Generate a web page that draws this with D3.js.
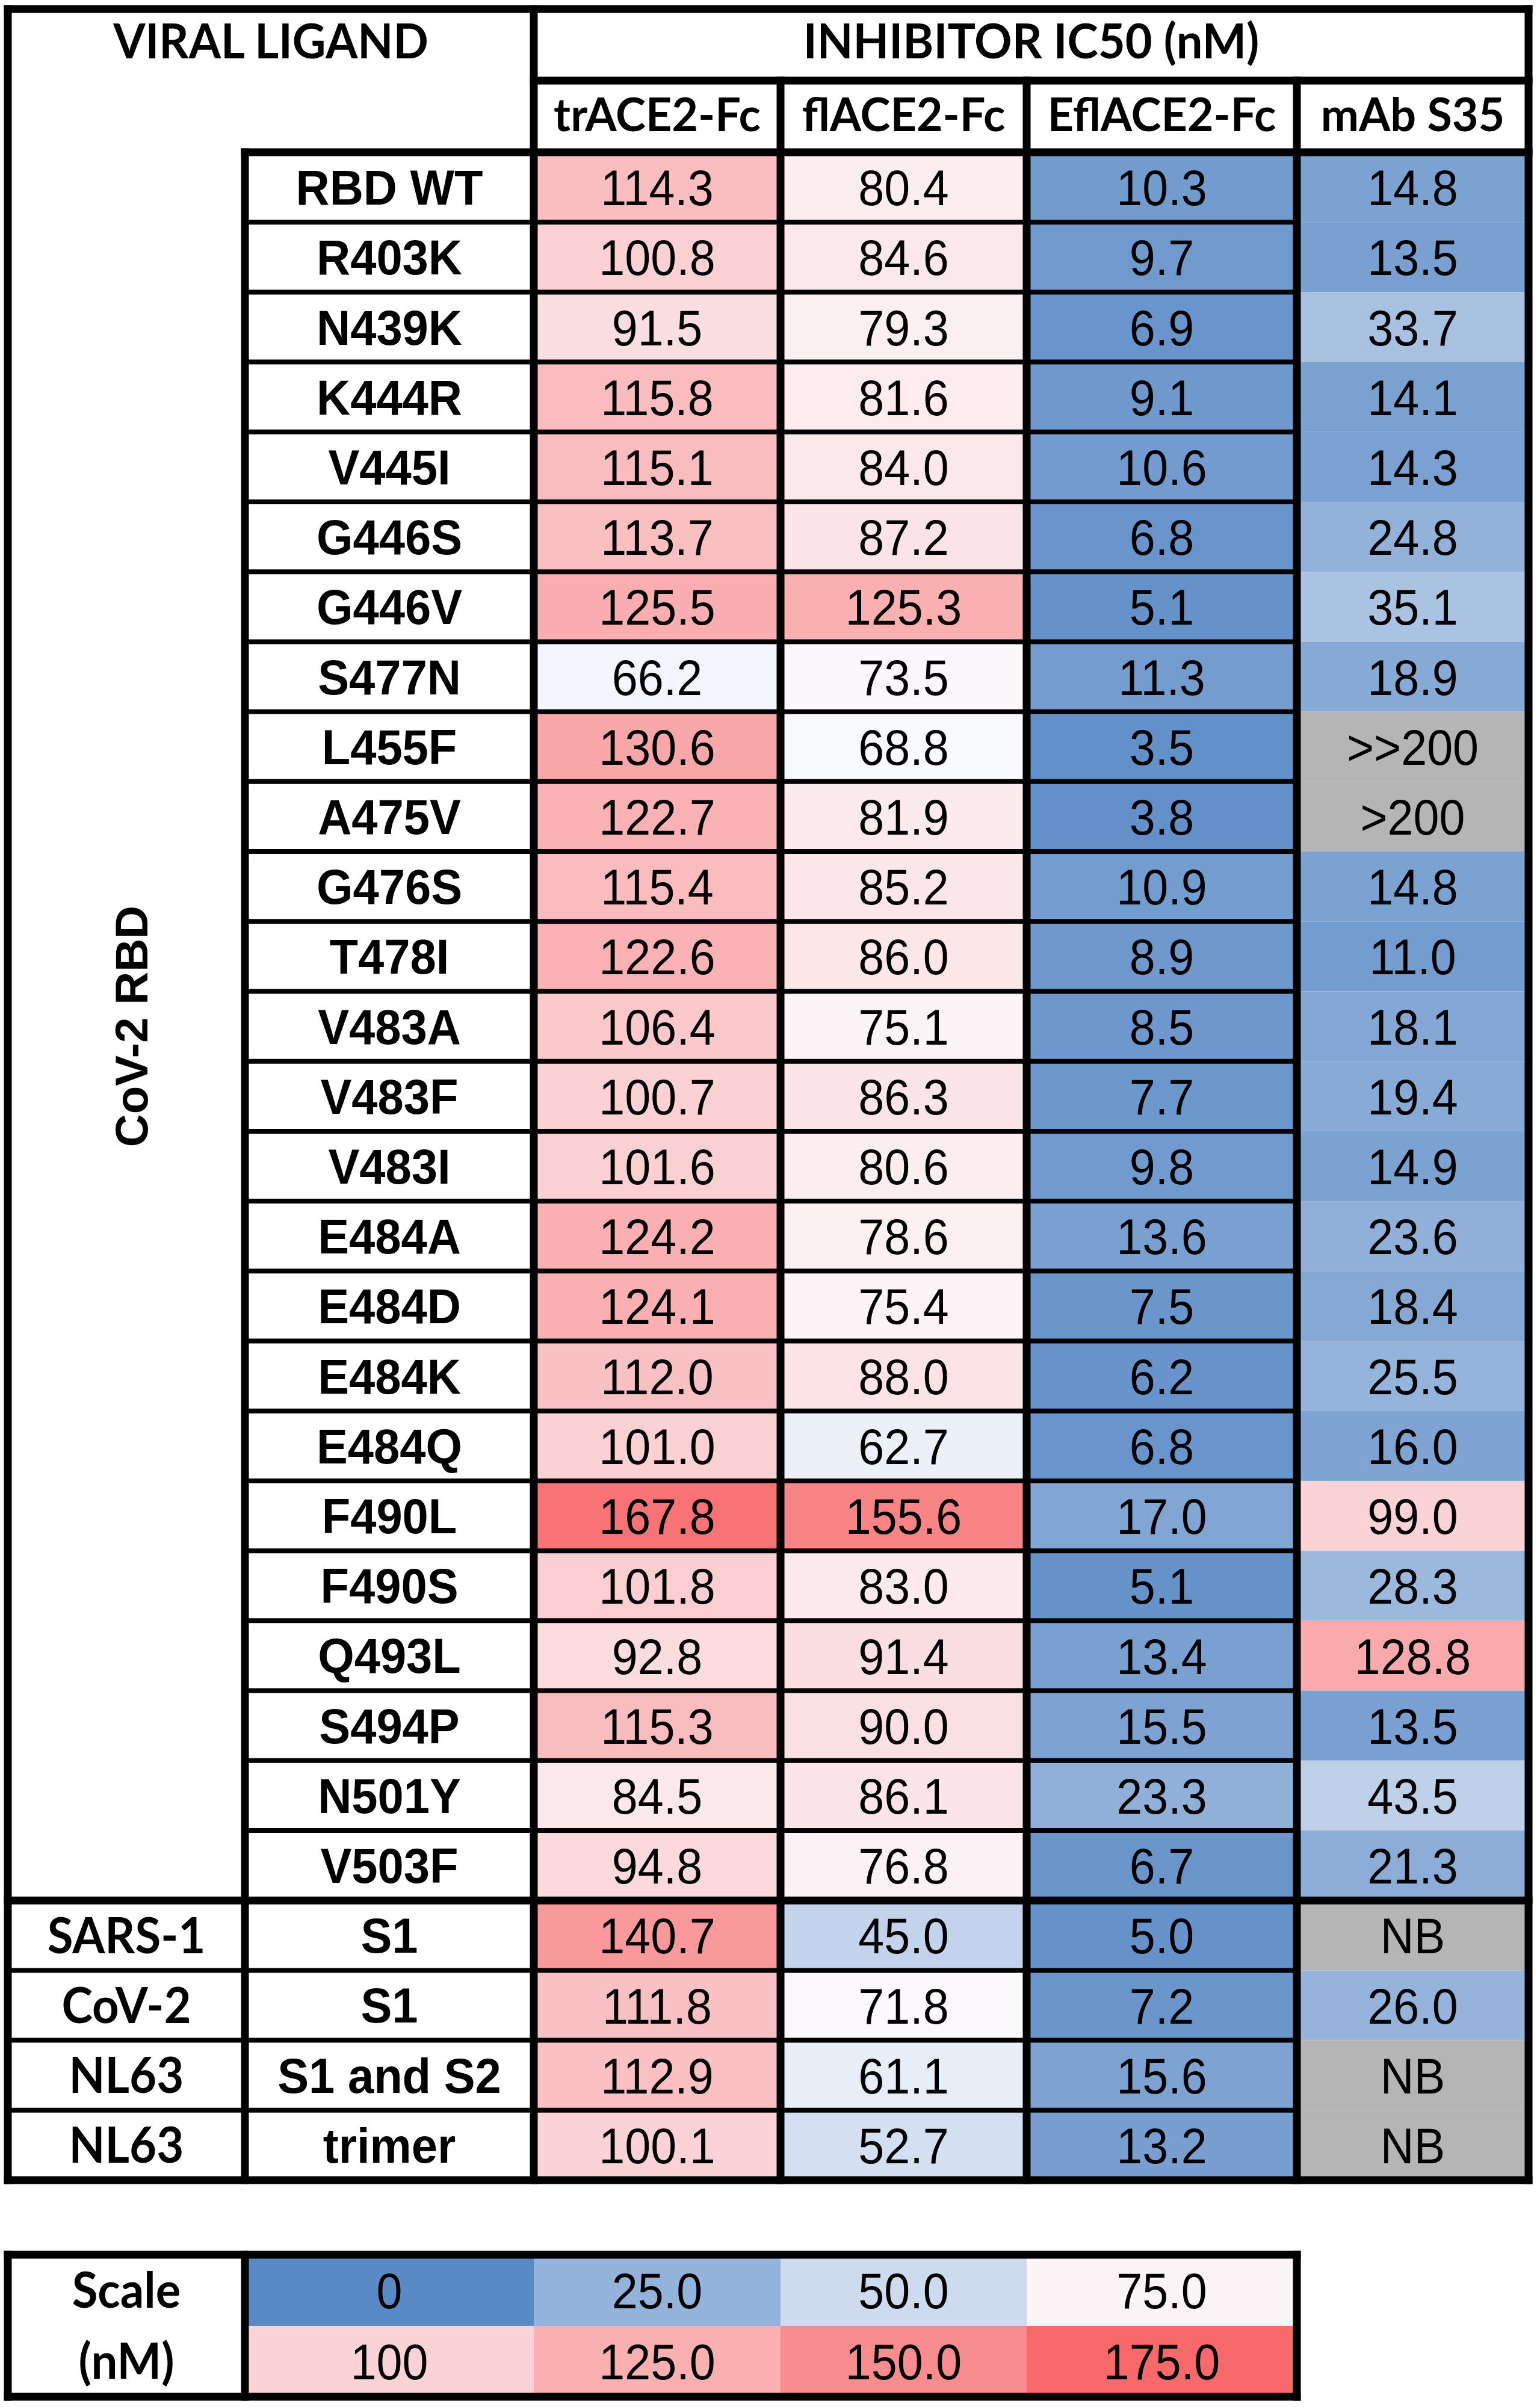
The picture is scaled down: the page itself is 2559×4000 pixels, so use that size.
<!DOCTYPE html>
<html>
<head>
<meta charset="utf-8">
<script src="https://cdn.jsdelivr.net/npm/d3@7"></script>
<style>
  body { margin: 0; background: #fff; }
</style>
</head>
<body>
<div id="chart"></div>
<script>
var ligands = ["RBD WT", "R403K", "N439K", "K444R", "V445I", "G446S", "G446V", "S477N",
  "L455F", "A475V", "G476S", "T478I", "V483A", "V483F", "V483I", "E484A", "E484D",
  "E484K", "E484Q", "F490L", "F490S", "Q493L", "S494P", "N501Y", "V503F",
  "S1", "S1", "S1 and S2", "trimer"];
var groups = ["SARS-1", "CoV-2", "NL63", "NL63"];   // last four rows
var rbdGroup = "CoV-2 RBD";                          // first 25 rows
var inhibitors = ["trACE2-Fc", "flACE2-Fc", "EflACE2-Fc", "mAb S35"];

var trACE2 = [114.3, 100.8, 91.5, 115.8, 115.1, 113.7, 125.5, 66.2, 130.6, 122.7, 115.4,
  122.6, 106.4, 100.7, 101.6, 124.2, 124.1, 112.0, 101.0, 167.8, 101.8, 92.8, 115.3,
  84.5, 94.8, 140.7, 111.8, 112.9, 100.1];
var flACE2 = [80.4, 84.6, 79.3, 81.6, 84.0, 87.2, 125.3, 73.5, 68.8, 81.9, 85.2, 86.0,
  75.1, 86.3, 80.6, 78.6, 75.4, 88.0, 62.7, 155.6, 83.0, 91.4, 90.0, 86.1, 76.8, 45.0,
  71.8, 61.1, 52.7];
var eflACE2 = [10.3, 9.7, 6.9, 9.1, 10.6, 6.8, 5.1, 11.3, 3.5, 3.8, 10.9, 8.9, 8.5, 7.7,
  9.8, 13.6, 7.5, 6.2, 6.8, 17.0, 5.1, 13.4, 15.5, 23.3, 6.7, 5.0, 7.2, 15.6, 13.2];
var mAbS35 = [14.8, 13.5, 33.7, 14.1, 14.3, 24.8, 35.1, 18.9, ">>200", ">200", 14.8, 11.0,
  18.1, 19.4, 14.9, 23.6, 18.4, 25.5, 16.0, 99.0, 28.3, 128.8, 13.5, 43.5, 21.3, "NB",
  26.0, "NB", "NB"];

var scaleValues = [0, 25, 50, 75, 100, 125, 150, 175];
var scaleLabels = ["0", "25.0", "50.0", "75.0", "100", "125.0", "150.0", "175.0"];

// ---- layout ----
var width = 2559, height = 4000;
var colEdges = [13, 407, 887, 1297, 1706, 2155, 2540];
var topY = 15, headMidY = 134, headBotY = 253, tableBotY = 3623;
var legTop = 3747, legBot = 3983;
var thick = 13, thin = 8;

var numFont = "'Liberation Sans', Arial, sans-serif";
var hdrFont = "Lato, 'Noto Sans', sans-serif";

var color = d3.scaleLinear()
  .domain([0, 70, 175])
  .range(["#5A8AC6", "#FCFCFF", "#F8696B"])
  .clamp(true);
var grey = "#B5B5B5";

var series = [trACE2, flACE2, eflACE2, mAbS35];

var y = d3.scaleBand()
  .domain(d3.range(ligands.length))
  .range([headBotY, tableBotY]);

var x = d3.scaleOrdinal()
  .domain(inhibitors)
  .range(colEdges.slice(2, 6));
function colW(name) {
  var i = inhibitors.indexOf(name);
  return colEdges[i + 3] - colEdges[i + 2];
}

var svg = d3.select("#chart").append("svg")
  .attr("width", width)
  .attr("height", height)
  .style("display", "block");

// text helper: centred horizontally, vertically centred on cap height
function label(g, cx, cy, txt, size, bold, family, sx) {
  return g.append("text")
    .attr("transform", "translate(" + cx + "," + (cy + size * 0.358) + ") scale(" + (sx || 1) + ",1)")
    .attr("text-anchor", "middle")
    .style("font-family", family)
    .style("font-size", size + "px")
    .style("font-weight", bold ? "bold" : "normal")
    .style("fill", "#000")
    .text(txt);
}

// ---- cells ----
var cells = [];
series.forEach(function(s, ci) {
  s.forEach(function(v, ri) {
    cells.push({ col: inhibitors[ci], row: ri, v: v });
  });
});

var cellG = svg.append("g");
cellG.selectAll("rect")
  .data(cells)
  .enter().append("rect")
  .attr("x", function(d) { return x(d.col); })
  .attr("y", function(d) { return y(d.row); })
  .attr("width", function(d) { return colW(d.col); })
  .attr("height", y.bandwidth())
  .attr("fill", function(d) { return typeof d.v === "number" ? color(d.v) : grey; });

var textG = svg.append("g");
cells.forEach(function(d) {
  var t = typeof d.v === "number" ? d.v.toFixed(1) : d.v;
  label(textG, x(d.col) + colW(d.col) / 2, y(d.row) + y.bandwidth() / 2, t, 84, false, numFont, 0.92);
});

// ligand names
ligands.forEach(function(name, i) {
  label(textG, (colEdges[1] + colEdges[2]) / 2, y(i) + y.bandwidth() / 2, name, 81, true, numFont, 0.96);
});

// group names for last rows
groups.forEach(function(name, i) {
  var ri = ligands.length - groups.length + i;
  label(textG, (colEdges[0] + colEdges[1]) / 2, y(ri) + y.bandwidth() / 2, name, 82, true, hdrFont, 0.95);
});

// rotated group label for RBD rows
var rbdMid = (y(0) + y(ligands.length - groups.length)) / 2;
textG.append("text")
  .attr("transform", "translate(" + 245 + "," + rbdMid + ") rotate(-90)")
  .attr("text-anchor", "middle")
  .style("font-family", numFont)
  .style("font-size", "76px")
  .style("font-weight", "bold")
  .text(rbdGroup);

// headers
label(textG, (colEdges[0] + colEdges[2]) / 2, (topY + headMidY) / 2 - 6, "VIRAL LIGAND", 80, true, hdrFont, 0.96);
label(textG, (colEdges[2] + colEdges[6]) / 2, (topY + headMidY) / 2 - 6, "INHIBITOR IC50 (nM)", 80, true, hdrFont, 0.97);
inhibitors.forEach(function(name) {
  label(textG, x(name) + colW(name) / 2, (headMidY + headBotY) / 2 - 3, name, 77, true, hdrFont, 0.98);
});

// ---- grid lines ----
var lines = [];
function hl(y0, x0, x1, w) { lines.push({ x1: x0, y1: y0, x2: x1, y2: y0, w: w }); }
function vl(x0, y0, y1, w) { lines.push({ x1: x0, y1: y0, x2: x0, y2: y1, w: w }); }

// outer frame
hl(topY, colEdges[0], colEdges[6], thick);
hl(tableBotY, colEdges[0], colEdges[6], thick);
vl(colEdges[0], topY, tableBotY, thick);
vl(colEdges[6], topY, tableBotY, thick);
// header separators
hl(headMidY, colEdges[2], colEdges[6], thick);
hl(headBotY, colEdges[1], colEdges[6], thick);
vl(colEdges[1], headBotY, tableBotY, thick);
vl(colEdges[2], topY, tableBotY, thick);
for (var c = 3; c < 6; c++) vl(colEdges[c], headMidY, tableBotY, thick);
// row separators (mAb column has none)
var nRbd = ligands.length - groups.length;
for (var r = 1; r < ligands.length; r++) {
  if (r === nRbd) hl(y(r), colEdges[0], colEdges[6], thick);
  else if (r < nRbd) hl(y(r), colEdges[1], colEdges[5], thin);
  else hl(y(r), colEdges[0], colEdges[5], thin);
}

// ---- legend ----
var legRows = 2, legCols = 4;
var legH = (legBot - legTop) / legRows;
var legG = svg.append("g");
scaleValues.forEach(function(v, i) {
  var ci = i % legCols, ri = Math.floor(i / legCols);
  var x0 = colEdges[ci + 1], x1 = colEdges[ci + 2];
  legG.append("rect")
    .attr("x", x0).attr("y", legTop + ri * legH)
    .attr("width", x1 - x0).attr("height", legH)
    .attr("fill", color(v));
  label(legG, (x0 + x1) / 2, legTop + ri * legH + legH / 2, scaleLabels[i], 84, false, numFont, 0.92);
});
label(legG, (colEdges[0] + colEdges[1]) / 2, legTop + legH / 2, "Scale", 82, true, hdrFont, 0.95);
label(legG, (colEdges[0] + colEdges[1]) / 2, legTop + legH * 1.5, "(nM)", 82, true, hdrFont, 0.95);

hl(legTop, colEdges[0], colEdges[5], thick);
hl(legBot, colEdges[0], colEdges[5], thick);
vl(colEdges[0], legTop, legBot, thick);
vl(colEdges[5], legTop, legBot, thick);
vl(colEdges[1], legTop, legBot, thick);

svg.append("g").selectAll("line")
  .data(lines)
  .enter().append("line")
  .attr("x1", function(d) { return d.x1; })
  .attr("y1", function(d) { return d.y1; })
  .attr("x2", function(d) { return d.x2; })
  .attr("y2", function(d) { return d.y2; })
  .attr("stroke", "#000")
  .attr("stroke-width", function(d) { return d.w; })
  .attr("stroke-linecap", "square");
</script>
</body>
</html>
